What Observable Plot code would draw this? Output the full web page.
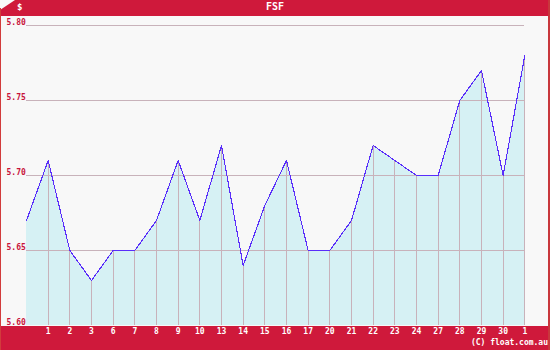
<!DOCTYPE html>
<html><head><meta charset="utf-8">
<script src="https://cdn.jsdelivr.net/npm/d3@7"></script>
<script src="https://cdn.jsdelivr.net/npm/@observablehq/plot@0.6"></script>
<style>
body{margin:0;background:#fff;}
#wrap{position:relative;width:550px;height:350px;overflow:hidden;background:#f8f8f8;font-family:"DejaVu Sans Mono",monospace;}
#hdr{position:absolute;left:0;top:0;width:550px;height:16px;background:#cf193b;clip-path:polygon(15px 0,100% 0,100% 100%,0 100%,0 10px);}
#cur{position:absolute;left:17px;top:2px;color:#fff;font-size:9px;font-weight:bold;}
#ttl{position:absolute;left:0;width:550px;top:1px;text-align:center;color:#fff;font-size:10px;font-weight:bold;font-family:"DejaVu Sans Mono",monospace;}
#ftr{position:absolute;left:0;top:326px;width:550px;height:24px;background:#cf193b;}
#copy{position:absolute;right:2px;top:338px;color:#fff;font-size:8px;font-weight:bold;}
#lb{position:absolute;left:0;top:8px;width:1px;height:342px;background:#d23c3c;}
#rb{position:absolute;right:0;top:0;width:2px;height:350px;background:#c8373c;}
#plot{position:absolute;left:0;top:16px;}
</style></head>
<body>
<div id="wrap">
<div id="hdr"></div>
<div id="cur">$</div>
<div id="ttl">FSF</div>
<div id="ftr"></div>
<div id="copy">(C) float.com.au</div>
<div id="plot"></div>
<div id="lb"></div>
<div id="rb"></div>
</div>
<script>
const labels = ["", "1","2","3","6","7","8","9","10","13","14","15","16","17","20","21","22","23","24","27","28","29","30","1"];
const values = [5.67,5.71,5.65,5.63,5.65,5.65,5.67,5.71,5.67,5.72,5.64,5.68,5.71,5.65,5.65,5.67,5.72,5.71,5.70,5.70,5.75,5.77,5.70,5.78];
const yTicks = [5.60,5.65,5.70,5.75,5.80];
const yGrid = [5.65,5.70,5.75,5.80];

const data = values.map((v,i)=>({i, v, label: labels[i]}));
const labeled = data.filter(d=>d.label !== "");

const chart = Plot.plot({
  width: 550, height: 334,
  marginTop: 9, marginBottom: 25, marginLeft: 26, marginRight: 25.7,
  style: {background: "transparent", overflow: "visible"},
  x: {domain: [0, values.length-1], axis: null},
  y: {domain: [5.60, 5.80], axis: null},
  marks: [
    Plot.areaY(data, {x: "i", y1: 5.60, y2: "v", fill: "#d6f1f4"}),
    Plot.ruleY(yGrid, {stroke: "#c8b2ba", strokeWidth: 1, shapeRendering: "crispEdges"}),
    Plot.ruleX(labeled, {x: "i", y1: 5.60, y2: "v", stroke: "#c8b2ba", strokeWidth: 1, shapeRendering: "crispEdges"}),
    Plot.lineY(data, {x: "i", y: "v", stroke: "#5a2dfa", strokeWidth: 1.1, shapeRendering: "crispEdges"}),
    Plot.text(yTicks, {y: d=>d, text: d=>d.toFixed(2), frameAnchor: "left", dx: -20, dy: -1, textAnchor: "start", lineAnchor: "bottom", fill: "#c8143c", fontSize: 8, fontWeight: "bold", fontFamily: "DejaVu Sans Mono"}),
    Plot.text(labeled, {x: "i", text: "label", frameAnchor: "bottom", dy: 3, lineAnchor: "top", fill: "#fff", fontSize: 8, fontWeight: "bold", fontFamily: "DejaVu Sans Mono"})
  ]
});
document.getElementById("plot").appendChild(chart);
</script>
</body></html>
